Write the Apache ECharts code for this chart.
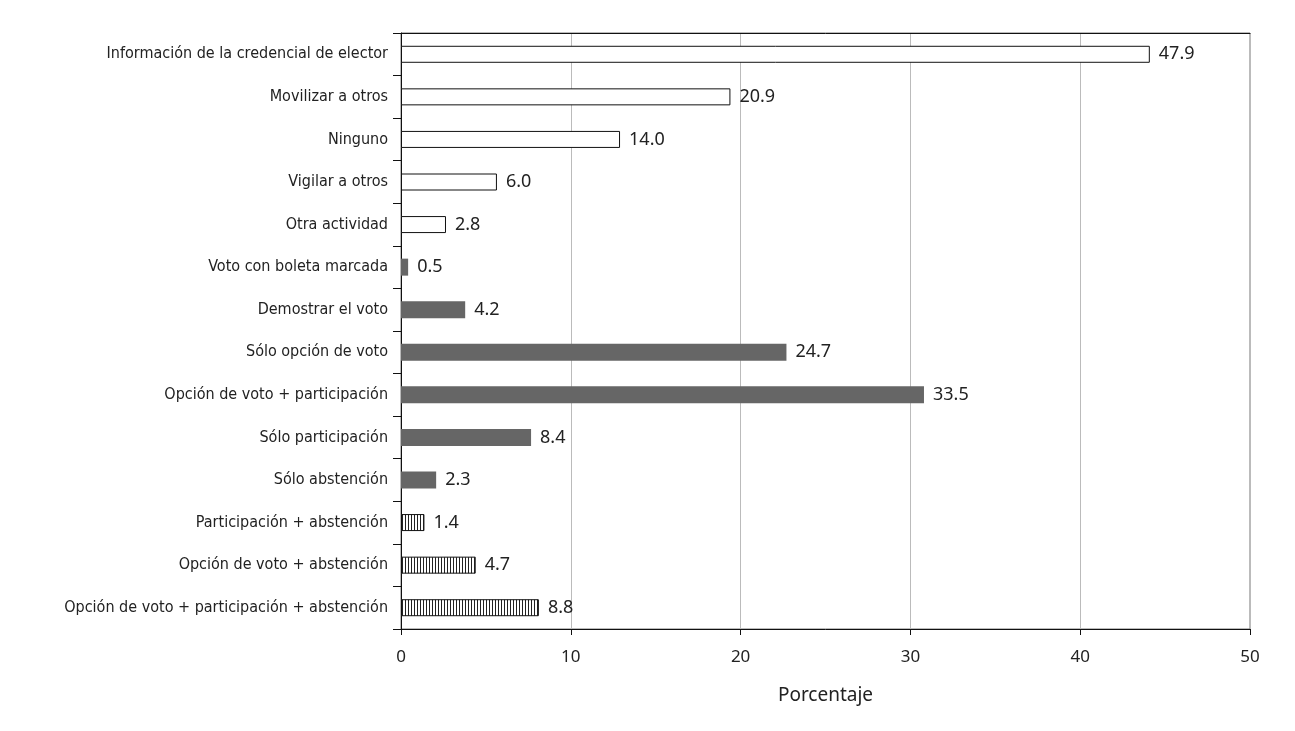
<!DOCTYPE html>
<html>
<head>
<meta charset="utf-8">
<script src="https://cdn.jsdelivr.net/npm/echarts@6/dist/echarts.min.js"></script>
<style>html,body{margin:0;padding:0;background:#fff;}#c{width:1295px;height:731px;}</style>
</head>
<body>
<div id="c"></div>
<script>
var categories = [
  "Información de la credencial de elector",
  "Movilizar a otros",
  "Ninguno",
  "Vigilar a otros",
  "Otra actividad",
  "Voto con boleta marcada",
  "Demostrar el voto",
  "Sólo opción de voto",
  "Opción de voto + participación",
  "Sólo participación",
  "Sólo abstención",
  "Participación + abstención",
  "Opción de voto + abstención",
  "Opción de voto + participación + abstención"
];
// bar lengths as drawn in the picture
var barValues = [44.1, 19.4, 12.9, 5.65, 2.65, 0.42, 3.78, 22.7, 30.8, 7.66, 2.07, 1.38, 4.4, 8.12];
// printed value labels
var labelValues = ["47.9", "20.9", "14.0", "6.0", "2.8", "0.5", "4.2", "24.7", "33.5", "8.4", "2.3", "1.4", "4.7", "8.8"];
// style group per bar: 0 = white, 1 = dark gray, 2 = hatched
var groups = [0, 0, 0, 0, 0, 1, 1, 1, 1, 1, 1, 2, 2, 2];
var xTicks = [0, 10, 20, 30, 40, 50];

var pc = document.createElement('canvas');
pc.width = 3; pc.height = 4;
var ctx = pc.getContext('2d');
ctx.fillStyle = '#ffffff'; ctx.fillRect(0, 0, 3, 4);
ctx.fillStyle = '#222222'; ctx.fillRect(0, 0, 1, 4);

function styleFor(g) {
  if (g === 0) return { color: '#ffffff', borderColor: '#111', borderWidth: 1 };
  if (g === 1) return { color: '#666666', borderWidth: 0 };
  return { color: { image: pc, repeat: 'repeat' }, borderColor: '#111', borderWidth: 1 };
}

var data = barValues.map(function (v, i) {
  return { value: v, itemStyle: styleFor(groups[i]), label: { formatter: labelValues[i] } };
});

var narrow = "'Liberation Sans Narrow', 'Arial Narrow', 'DejaVu Sans Condensed', 'Roboto Condensed', Roboto, sans-serif";

var chart = echarts.init(document.getElementById('c'), null, { renderer: 'canvas' });
chart.setOption({
  animation: false,
  backgroundColor: '#fff',
  grid: { left: 401, right: 45, top: 33, bottom: 102, show: true, borderColor: '#777', borderWidth: 1, backgroundColor: 'transparent' },
  xAxis: [{
    type: 'value', min: xTicks[0], max: xTicks[xTicks.length - 1], interval: 10,
    name: 'Porcentaje', nameLocation: 'middle', nameGap: 57,
    nameTextStyle: { fontFamily: 'Noto Sans', fontSize: 19, color: '#222' },
    axisLine: { show: true, lineStyle: { color: '#111', width: 1 } },
    axisTick: { show: true, length: 6, lineStyle: { color: '#111' } },
    axisLabel: { fontFamily: 'Noto Sans', fontSize: 17, color: '#222', margin: 20 },
    splitLine: { show: true, lineStyle: { color: '#bbb', width: 1 } }
  }, {
    type: 'value', position: 'top', min: 0, max: 50, interval: 10,
    axisLine: { show: true, lineStyle: { color: '#111', width: 1 } },
    axisTick: { show: false }, axisLabel: { show: false }, splitLine: { show: false }
  }],
  yAxis: {
    type: 'category', data: categories, inverse: true,
    axisLine: { show: true, lineStyle: { color: '#111', width: 1 } },
    axisTick: { show: true, length: 8, alignWithLabel: false, lineStyle: { color: '#111' } },
    axisLabel: { fontFamily: narrow, fontSize: 16, color: '#222', margin: 13 }
  },
  series: [{
    type: 'bar', data: data, barWidth: 17, xAxisIndex: 0,
    label: { show: true, position: 'right', distance: 9, fontFamily: 'Noto Sans', fontSize: 18, color: '#222' }
  }]
});
</script>
</body>
</html>
